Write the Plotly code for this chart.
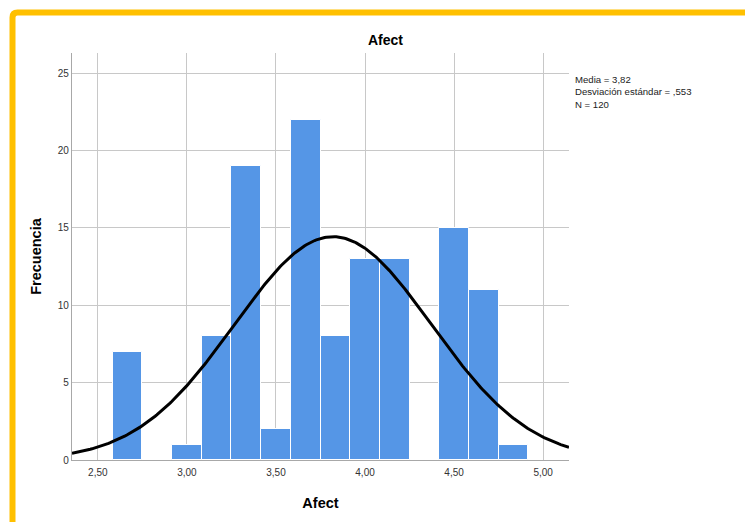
import numpy as np
import plotly.graph_objects as go

# Histogram of the "Afect" score (bin width 1/6)
bin_centers = [16/6, 18/6, 19/6, 20/6, 21/6, 22/6, 23/6, 24/6, 25/6, 27/6, 28/6, 29/6]
frequencies = [7, 1, 8, 19, 2, 22, 8, 13, 13, 15, 11, 1]
bin_width = 1/6

mean_val = 3.82
sd_val = 0.553
n_val = 120

x_ticks = [2.5, 3.0, 3.5, 4.0, 4.5, 5.0]
x_tick_text = ["2,50", "3,00", "3,50", "4,00", "4,50", "5,00"]
y_ticks = [0, 5, 10, 15, 20, 25]

x_min, x_max = 2.355, 5.145
y_max = 26.3

# Fitted normal curve scaled to counts
xs = np.linspace(x_min, x_max, 300)
ys = n_val * bin_width / (sd_val * np.sqrt(2 * np.pi)) * np.exp(-0.5 * ((xs - mean_val) / sd_val) ** 2)

fig = go.Figure()
fig.add_trace(go.Bar(
    x=bin_centers, y=frequencies, width=bin_width,
    marker=dict(color="#5596E6", line=dict(color="white", width=1)),
    hoverinfo="x+y", showlegend=False,
))
fig.add_trace(go.Scatter(
    x=xs, y=ys, mode="lines", line=dict(color="black", width=3),
    showlegend=False, hoverinfo="skip",
))

L, R, T, B = 72, 176, 53, 62
W, H = 745, 522
pw, ph = W - L - R, H - T - B

def px(x):
    return (x - L) / pw

def py(y):
    return (H - B - y) / ph

font_family = "Arial, Liberation Sans, sans-serif"

fig.update_layout(
    width=W, height=H,
    margin=dict(l=L, r=R, t=T, b=B),
    paper_bgcolor="white", plot_bgcolor="white",
    bargap=0,
    font=dict(family=font_family, size=10, color="#333333"),
    title=dict(text="<b>Afect</b>", x=px(385.5), xref="paper", xanchor="center",
               y=1 - 40 / H, yanchor="middle",
               font=dict(size=14, color="black", family=font_family)),
    xaxis=dict(
        range=[x_min, x_max], tickvals=x_ticks, ticktext=x_tick_text,
        showgrid=True, gridcolor="#c8c8c8", gridwidth=1.2,
        showline=True, linecolor="#a8a8a8", linewidth=1.2,
        ticks="outside", ticklen=3, tickcolor="rgba(0,0,0,0)", zeroline=False,
        tickfont=dict(size=10, color="#333333"),
        title=dict(text="<b>Afect</b>", font=dict(size=14.5, color="black"), standoff=20),
    ),
    yaxis=dict(
        range=[0, y_max], tickvals=y_ticks,
        showgrid=True, gridcolor="#c8c8c8", gridwidth=1.2,
        showline=True, linecolor="#a8a8a8", linewidth=1.2,
        ticks="", zeroline=False,
        tickfont=dict(size=10, color="#333333"),
        title=dict(text="<b>Frecuencia</b>", font=dict(size=14.5, color="black"), standoff=12),
    ),
    annotations=[dict(
        text=f"Media = 3,82<br>Desviación estándar = ,553<br>N = {n_val}",
        xref="paper", yref="paper", x=px(573), y=py(72),
        xanchor="left", yanchor="top", align="left", showarrow=False,
        font=dict(size=9.6, color="#222222", family=font_family),
    )],
    shapes=[dict(
        type="path", xref="paper", yref="paper",
        path=f"M {px(760)},{py(12.5)} L {px(17.5)},{py(12.5)} Q {px(12.5)},{py(12.5)} {px(12.5)},{py(17.5)} L {px(12.5)},{py(540)}",
        line=dict(color="#FFC000", width=6), layer="above",
    )],
)

fig.write_html("out.html")
